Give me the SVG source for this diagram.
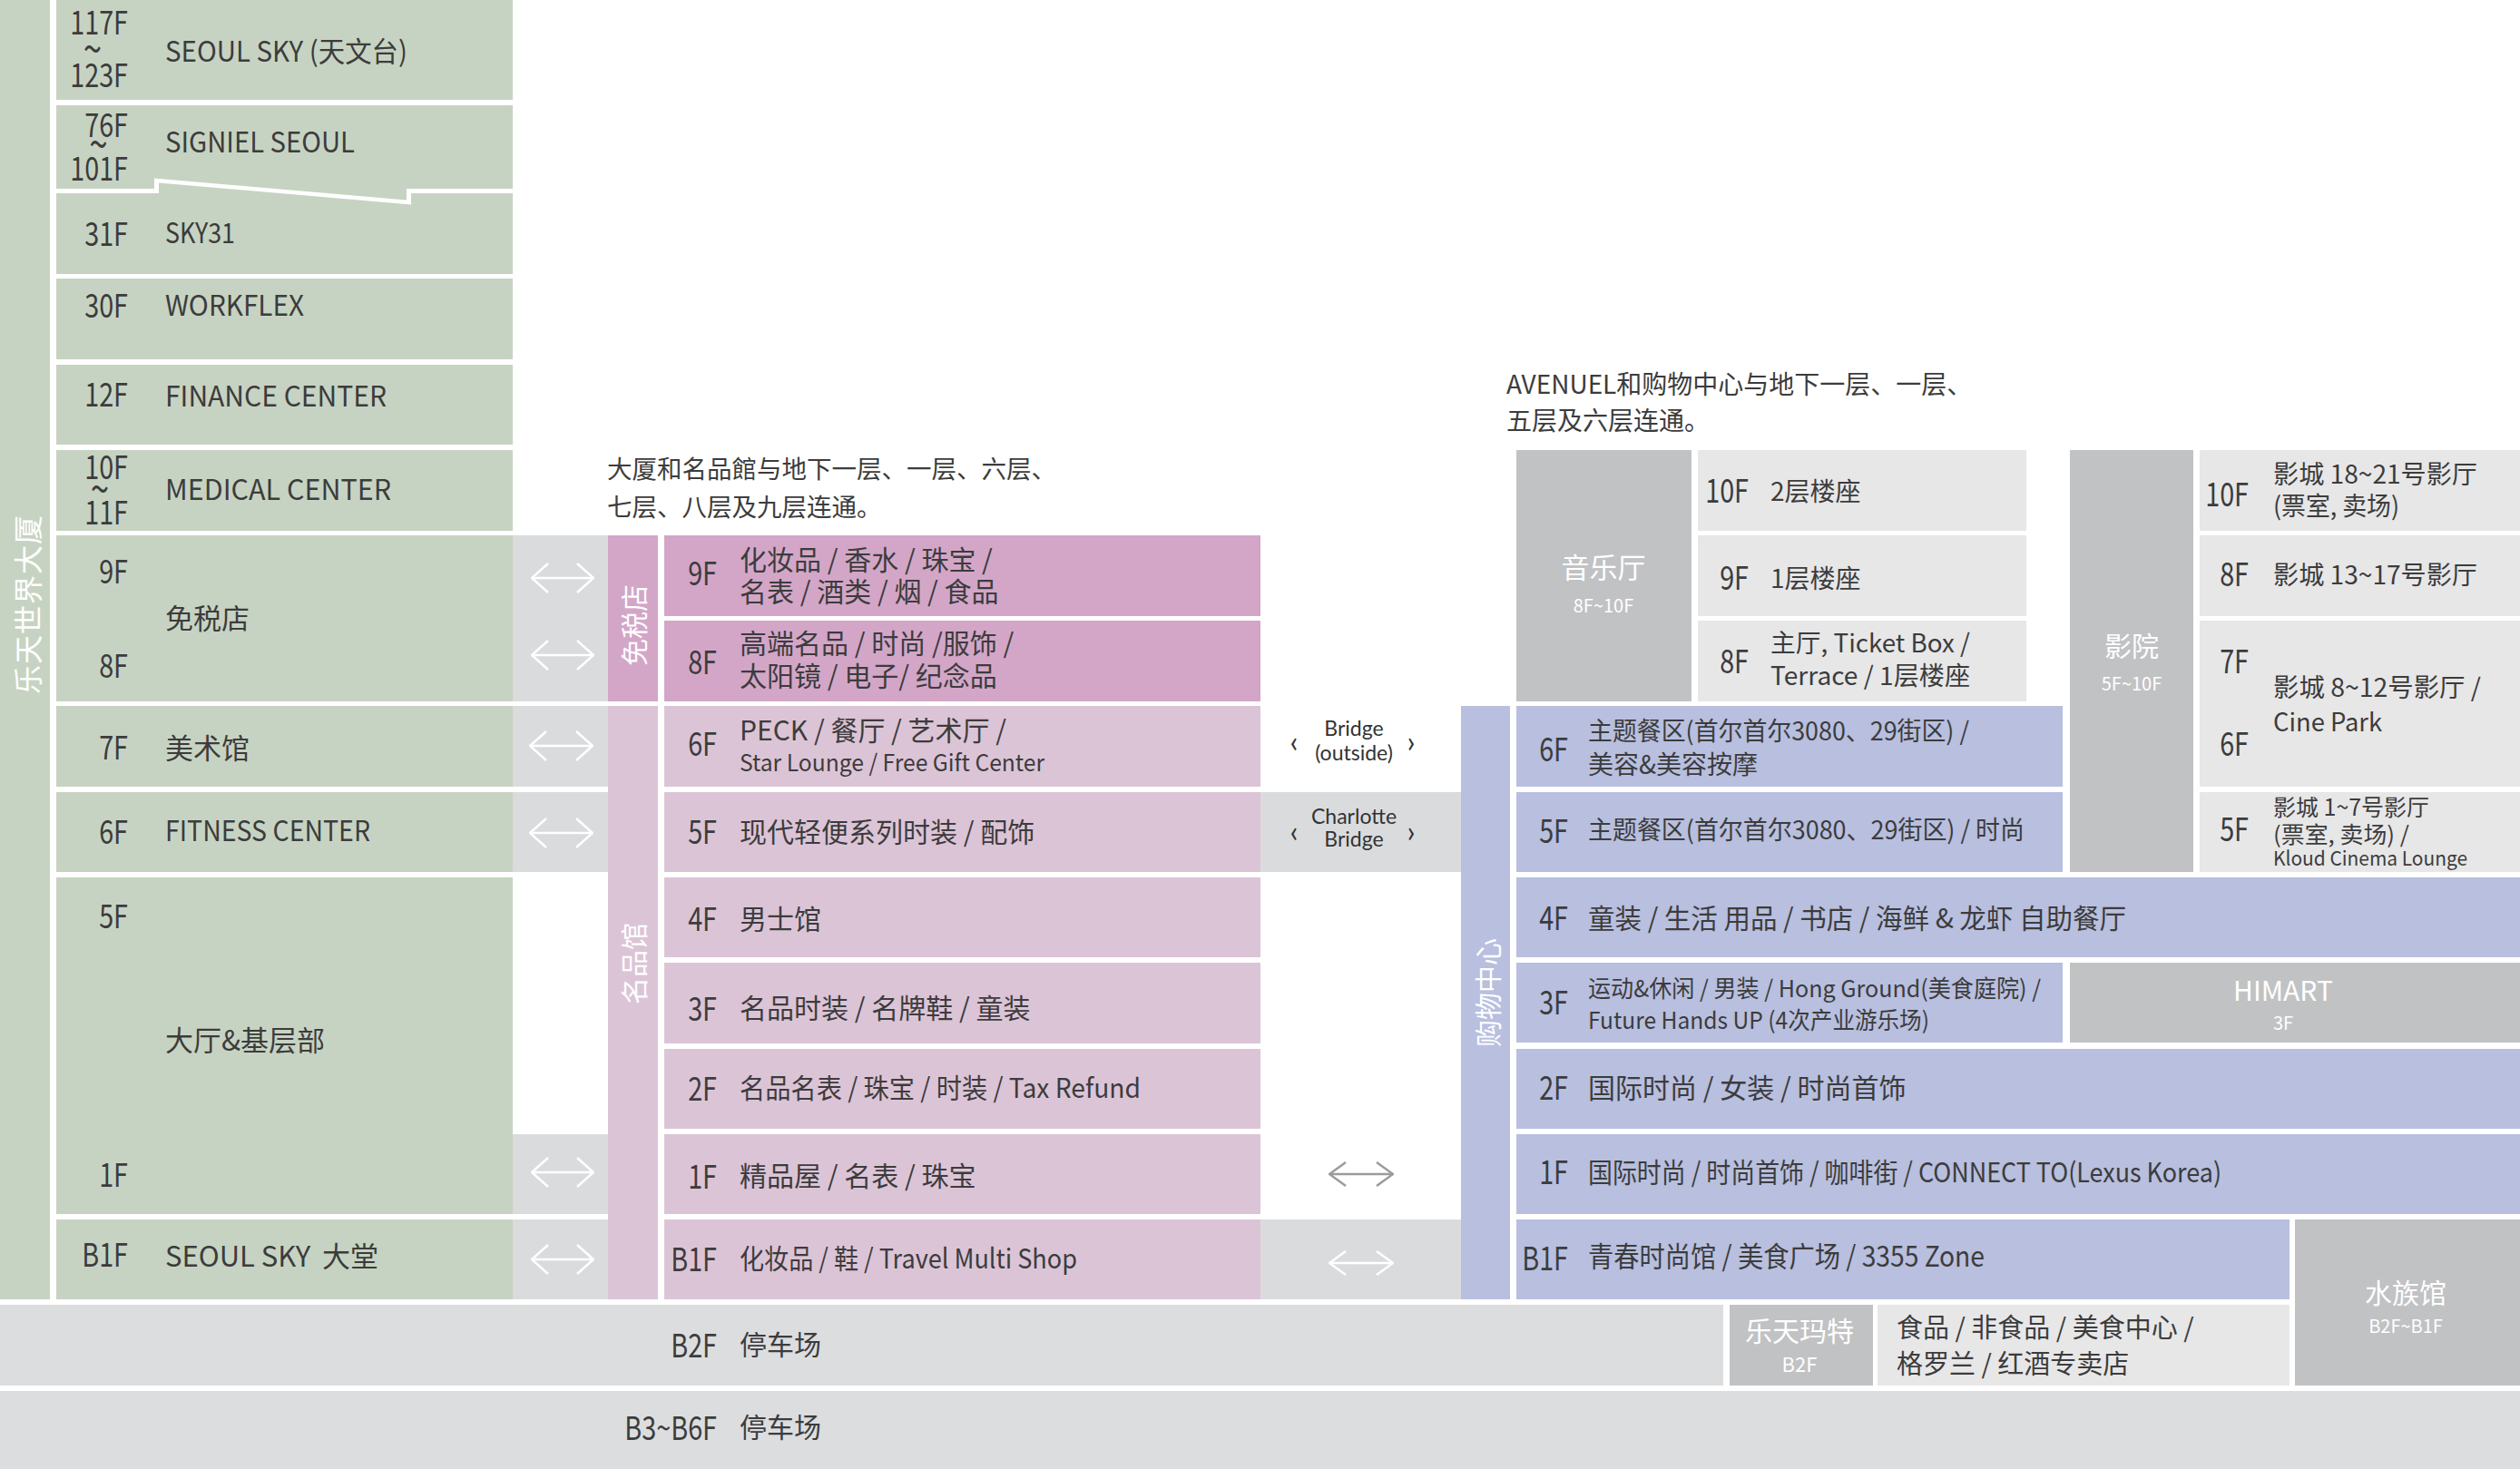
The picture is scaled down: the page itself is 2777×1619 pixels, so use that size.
<svg xmlns="http://www.w3.org/2000/svg" width="2777" height="1619" viewBox="0 0 2777 1619">
<defs>
<style>
.g{fill:#c7d3c2}.gs{fill:#dadbdd}.pd{fill:#d3a6c8}.pl{fill:#dcc4d7}.pu{fill:#b8bfdf}.mg{fill:#c1c2c4}.lg{fill:#e7e7e8}.bg{fill:#dcdddf}
text{font-family:"Noto Sans CJK SC","Noto Sans",sans-serif;fill:#3c3c3c}
.t{font-size:31px}.t30{font-size:30px}.t28{font-size:28px}.t26{font-size:26px}.t25{font-size:25px}.t22{font-size:22px}
.fl{font-size:36px;text-anchor:end}
.tld{font-size:46px}
.w{fill:#fff;text-anchor:middle}
.v{fill:#fff;text-anchor:middle;dominant-baseline:central;font-size:30px}
.br{font-family:Lato,"Liberation Sans",sans-serif;font-size:23px;fill:#333;text-anchor:middle}
.ch{font-family:Lato,"Liberation Sans",sans-serif;font-size:32px;fill:#333;text-anchor:middle}
.aw{stroke:#fff;stroke-width:2.5;fill:none}
.ag{stroke:#9b9b9b;stroke-width:2.5;fill:none}
</style>
<marker id="hw" viewBox="0 0 20 34" refX="19" refY="17" markerWidth="20" markerHeight="34" markerUnits="userSpaceOnUse" orient="auto-start-reverse"><path d="M1,1 L19,17 L1,33" fill="none" stroke="#fff" stroke-width="2.5"/></marker>
<marker id="hw2" viewBox="0 0 20 28" refX="19" refY="14" markerWidth="20" markerHeight="28" markerUnits="userSpaceOnUse" orient="auto-start-reverse"><path d="M1,1 L19,14 L1,27" fill="none" stroke="#fff" stroke-width="2.5"/></marker>
<marker id="hg" viewBox="0 0 20 28" refX="19" refY="14" markerWidth="20" markerHeight="28" markerUnits="userSpaceOnUse" orient="auto-start-reverse"><path d="M1,1 L19,14 L1,27" fill="none" stroke="#9b9b9b" stroke-width="2.5"/></marker>
</defs>
<rect width="2777" height="1619" fill="#fff"/>

<!-- Lotte World Tower -->
<g id="tower-bar"><rect class="g" x="0" y="0" width="55" height="1432"/><text class="v" letter-spacing="1" transform="translate(29 666) rotate(-90)" style="font-size:32px">乐天世界大厦</text></g>

<g id="f117"><rect class="g" x="62" y="0" width="503" height="110"/>
<text class="fl" transform="translate(141 0) scale(.8 1)"><tspan x="0" y="38">117F</tspan><tspan class="tld" x="-36" y="71">~</tspan><tspan x="0" y="96">123F</tspan></text>
<text class="t" x="182" y="68" textLength="267" lengthAdjust="spacingAndGlyphs">SEOUL SKY (天文台)</text></g>

<g id="f76"><polygon class="g" points="62,116 565,116 565,208 448,208 448,220.5 170,196.5 170,208 62,208"/>
<text class="fl" transform="translate(141 0) scale(.8 1)"><tspan x="0" y="151">76F</tspan><tspan class="tld" x="-28" y="176">~</tspan><tspan x="0" y="199">101F</tspan></text>
<text class="t" x="182" y="168" textLength="209" lengthAdjust="spacingAndGlyphs">SIGNIEL SEOUL</text></g>

<g id="f31"><polygon class="g" points="62,213 175,213 175,201.5 453,225.5 453,213 565,213 565,302 62,302"/>
<text class="fl" transform="translate(141 271) scale(.8 1)">31F</text>
<text class="t" x="182" y="268" textLength="77" lengthAdjust="spacingAndGlyphs">SKY31</text></g>

<g id="f30"><rect class="g" x="62" y="307" width="503" height="89"/>
<text class="fl" transform="translate(141 350) scale(.8 1)">30F</text>
<text class="t" x="182" y="348" textLength="153" lengthAdjust="spacingAndGlyphs">WORKFLEX</text></g>

<g id="f12"><rect class="g" x="62" y="402" width="503" height="88"/>
<text class="fl" transform="translate(141 448) scale(.8 1)">12F</text>
<text class="t" x="182" y="448" textLength="244" lengthAdjust="spacingAndGlyphs">FINANCE CENTER</text></g>

<g id="f10"><rect class="g" x="62" y="496" width="503" height="89"/>
<text class="fl" transform="translate(141 0) scale(.8 1)"><tspan x="0" y="528">10F</tspan><tspan class="tld" x="-26" y="556">~</tspan><tspan x="0" y="578">11F</tspan></text>
<text class="t" x="182" y="551" textLength="249" lengthAdjust="spacingAndGlyphs">MEDICAL CENTER</text></g>

<g id="f9-8"><rect class="g" x="62" y="590" width="503" height="183"/><rect class="gs" x="565" y="590" width="105" height="183"/>
<text class="fl" transform="translate(141 643) scale(.8 1)">9F</text><text class="fl" transform="translate(141 747) scale(.8 1)">8F</text>
<text class="t" x="182" y="693">免税店</text></g>

<g id="f7"><rect class="g" x="62" y="778" width="503" height="89"/><rect class="gs" x="565" y="778" width="105" height="89"/>
<text class="fl" transform="translate(141 837) scale(.8 1)">7F</text><text class="t" x="182" y="836">美术馆</text></g>

<g id="f6"><rect class="g" x="62" y="873" width="503" height="88"/><rect class="gs" x="565" y="873" width="105" height="88"/>
<text class="fl" transform="translate(141 930) scale(.8 1)">6F</text><text class="t" x="182" y="927" textLength="226" lengthAdjust="spacingAndGlyphs">FITNESS CENTER</text></g>

<g id="f5-1"><rect class="g" x="62" y="967" width="503" height="371"/><rect class="gs" x="565" y="1250" width="105" height="88"/>
<text class="fl" transform="translate(141 1023) scale(.8 1)">5F</text><text class="fl" transform="translate(141 1308) scale(.8 1)">1F</text>
<text class="t" x="182" y="1158">大厅&amp;基层部</text></g>

<g id="fb1"><rect class="g" x="62" y="1344" width="503" height="88"/><rect class="gs" x="565" y="1344" width="105" height="88"/>
<text class="fl" transform="translate(141 1396) scale(.8 1)">B1F</text><text class="t" x="182" y="1396">SEOUL SKY<tspan x="355">大堂</tspan></text></g>

<!-- Avenuel -->
<g id="caption-left"><text x="669" style="font-size:27.5px"><tspan x="669" y="527">大厦和名品館与地下一层、一层、六层、</tspan><tspan x="669" y="569">七层、八层及九层连通。</tspan></text></g>

<g id="dutyfree-col"><rect class="pd" x="670" y="590" width="55" height="183"/><text class="v" transform="translate(697 689) rotate(-90)">免税店</text></g>
<g id="avenuel-col"><rect class="pl" x="670" y="778" width="55" height="654"/><text class="v" transform="translate(697 1062) rotate(-90)">名品馆</text></g>

<g id="a9"><rect class="pd" x="732" y="590" width="657" height="89"/><text class="fl" transform="translate(790 645) scale(.8 1)">9F</text>
<text class="t30"><tspan x="815" y="628">化妆品 / 香水 / 珠宝 /</tspan><tspan x="815" y="663">名表 / 酒类 / 烟 / 食品</tspan></text></g>
<g id="a8"><rect class="pd" x="732" y="684" width="657" height="89"/><text class="fl" transform="translate(790 743) scale(.8 1)">8F</text>
<text class="t30"><tspan x="815" y="720">高端名品 / 时尚 /服饰 /</tspan><tspan x="815" y="756">太阳镜 / 电子/ 纪念品</tspan></text></g>
<g id="a6"><rect class="pl" x="732" y="778" width="657" height="89"/><text class="fl" transform="translate(790 833) scale(.8 1)">6F</text>
<text class="t30"><tspan x="815" y="816">PECK / 餐厅 / 艺术厅 /</tspan><tspan x="815" y="850" class="t26" textLength="336" lengthAdjust="spacingAndGlyphs">Star Lounge / Free Gift Center</tspan></text></g>
<g id="a5"><rect class="pl" x="732" y="873" width="657" height="88"/><text class="fl" transform="translate(790 930) scale(.8 1)">5F</text>
<text class="t30" x="815" y="928">现代轻便系列时装 / 配饰</text></g>
<g id="a4"><rect class="pl" x="732" y="967" width="657" height="88"/><text class="fl" transform="translate(790 1026) scale(.8 1)">4F</text>
<text class="t30" x="815" y="1024">男士馆</text></g>
<g id="a3"><rect class="pl" x="732" y="1061" width="657" height="89"/><text class="fl" transform="translate(790 1125) scale(.8 1)">3F</text>
<text class="t30" x="815" y="1122">名品时装 / 名牌鞋 / 童装</text></g>
<g id="a2"><rect class="pl" x="732" y="1156" width="657" height="88"/><text class="fl" transform="translate(790 1213) scale(.8 1)">2F</text>
<text class="t30" x="815" y="1210" textLength="442" lengthAdjust="spacingAndGlyphs">名品名表 / 珠宝 / 时装 / Tax Refund</text></g>
<g id="a1"><rect class="pl" x="732" y="1250" width="657" height="88"/><text class="fl" transform="translate(790 1310) scale(.8 1)">1F</text>
<text class="t30" x="815" y="1307">精品屋 / 名表 / 珠宝</text></g>
<g id="ab1"><rect class="pl" x="732" y="1344" width="657" height="88"/><text class="fl" transform="translate(790 1401) scale(.8 1)">B1F</text>
<text class="t30" x="815" y="1398" textLength="372" lengthAdjust="spacingAndGlyphs">化妆品 / 鞋 / Travel Multi Shop</text></g>

<!-- bridges -->
<g id="bridge-outside"><text class="br"><tspan x="1492" y="811">Bridge</tspan><tspan x="1492" y="838">(outside)</tspan></text><text class="ch" x="1426" y="829">‹</text><text class="ch" x="1555" y="829">›</text></g>
<g id="charlotte-bridge"><rect class="gs" x="1389" y="873" width="221" height="88"/><text class="br"><tspan x="1492" y="908">Charlotte</tspan><tspan x="1492" y="933">Bridge</tspan></text><text class="ch" x="1426" y="928">‹</text><text class="ch" x="1555" y="928">›</text></g>
<g id="bridge-b1"><rect class="gs" x="1389" y="1344" width="221" height="88"/></g>

<!-- Lotte World Mall -->
<g id="caption-right"><text class="t28"><tspan x="1660" y="434">AVENUEL和购物中心与地下一层、一层、</tspan><tspan x="1660" y="474">五层及六层连通。</tspan></text></g>
<g id="mall-col"><rect class="pu" x="1610" y="778" width="54" height="654"/><text class="v" transform="translate(1638 1094) rotate(-90)">购物中心</text></g>

<g id="concert"><rect class="mg" x="1671" y="496" width="193" height="277"/><text class="w"><tspan x="1767" y="637" style="font-size:31px">音乐厅</tspan><tspan x="1767" y="675" style="font-size:20px">8F~10F</tspan></text></g>
<g id="c10"><rect class="lg" x="1871" y="496" width="362" height="89"/><text class="fl" transform="translate(1927 554) scale(.8 1)">10F</text><text class="t28" x="1951" y="552">2层楼座</text></g>
<g id="c9"><rect class="lg" x="1871" y="590" width="362" height="89"/><text class="fl" transform="translate(1927 650) scale(.8 1)">9F</text><text class="t28" x="1951" y="648">1层楼座</text></g>
<g id="c8"><rect class="lg" x="1871" y="684" width="362" height="89"/><text class="fl" transform="translate(1927 742) scale(.8 1)">8F</text><text class="t28"><tspan x="1951" y="719" textLength="220" lengthAdjust="spacingAndGlyphs">主厅, Ticket Box /</tspan><tspan x="1951" y="755" textLength="220" lengthAdjust="spacingAndGlyphs">Terrace / 1层楼座</tspan></text></g>

<g id="cinema"><rect class="mg" x="2281" y="496" width="136" height="465"/><text class="w"><tspan x="2349" y="723" style="font-size:30px">影院</tspan><tspan x="2349" y="761" style="font-size:20px">5F~10F</tspan></text></g>
<g id="m10"><rect class="lg" x="2424" y="496" width="353" height="89"/><text class="fl" transform="translate(2478 558) scale(.8 1)">10F</text><text class="t28"><tspan x="2505" y="533" textLength="225" lengthAdjust="spacingAndGlyphs">影城 18~21号影厅</tspan><tspan x="2505" y="568" textLength="139" lengthAdjust="spacingAndGlyphs">(票室, 卖场)</tspan></text></g>
<g id="m8"><rect class="lg" x="2424" y="590" width="353" height="89"/><text class="fl" transform="translate(2478 646) scale(.8 1)">8F</text><text class="t28" x="2505" y="644" textLength="225" lengthAdjust="spacingAndGlyphs">影城 13~17号影厅</text></g>
<g id="m7-6"><rect class="lg" x="2424" y="684" width="353" height="183"/><text class="fl" transform="translate(2478 742) scale(.8 1)">7F</text><text class="fl" transform="translate(2478 833) scale(.8 1)">6F</text><text class="t28"><tspan x="2505" y="768" textLength="229" lengthAdjust="spacingAndGlyphs">影城 8~12号影厅 /</tspan><tspan x="2505" y="806" textLength="120" lengthAdjust="spacingAndGlyphs">Cine Park</tspan></text></g>
<g id="m5"><rect class="lg" x="2424" y="873" width="353" height="88"/><text class="fl" transform="translate(2478 927) scale(.8 1)">5F</text><text class="t25"><tspan x="2505" y="899" textLength="172" lengthAdjust="spacingAndGlyphs">影城 1~7号影厅</tspan><tspan x="2505" y="929" textLength="150" lengthAdjust="spacingAndGlyphs">(票室, 卖场) /</tspan><tspan x="2505" y="954" class="t22" textLength="214" lengthAdjust="spacingAndGlyphs">Kloud Cinema Lounge</tspan></text></g>

<g id="s6"><rect class="pu" x="1671" y="778" width="602" height="89"/><text class="fl" transform="translate(1728 839) scale(.8 1)">6F</text><text class="t28"><tspan x="1750" y="816" textLength="420" lengthAdjust="spacingAndGlyphs">主题餐区(首尔首尔3080、29街区) /</tspan><tspan x="1750" y="853">美容&amp;美容按摩</tspan></text></g>
<g id="s5"><rect class="pu" x="1671" y="873" width="602" height="88"/><text class="fl" transform="translate(1728 929) scale(.8 1)">5F</text><text class="t28" x="1750" y="925" textLength="481" lengthAdjust="spacingAndGlyphs">主题餐区(首尔首尔3080、29街区) / 时尚</text></g>
<g id="s4"><rect class="pu" x="1671" y="967" width="1106" height="88"/><text class="fl" transform="translate(1728 1025) scale(.8 1)">4F</text><text class="t30" x="1750" y="1023" textLength="593" lengthAdjust="spacingAndGlyphs">童装 / 生活 用品 / 书店 / 海鲜 &amp; 龙虾 自助餐厅</text></g>
<g id="s3"><rect class="pu" x="1671" y="1061" width="602" height="88"/><text class="fl" transform="translate(1728 1118) scale(.8 1)">3F</text><text class="t26"><tspan x="1750" y="1099" textLength="499" lengthAdjust="spacingAndGlyphs">运动&amp;休闲 / 男装 / Hong Ground(美食庭院) /</tspan><tspan x="1750" y="1134" textLength="376" lengthAdjust="spacingAndGlyphs">Future Hands UP (4次产业游乐场)</tspan></text></g>
<g id="himart"><rect class="mg" x="2281" y="1061" width="496" height="88"/><text class="w"><tspan x="2516" y="1103" style="font-size:30px">HIMART</tspan><tspan x="2516" y="1135" style="font-size:20px">3F</tspan></text></g>
<g id="s2"><rect class="pu" x="1671" y="1156" width="1106" height="88"/><text class="fl" transform="translate(1728 1212) scale(.8 1)">2F</text><text class="t30" x="1750" y="1210">国际时尚 / 女装 / 时尚首饰</text></g>
<g id="s1"><rect class="pu" x="1671" y="1250" width="1106" height="88"/><text class="fl" transform="translate(1728 1305) scale(.8 1)">1F</text><text class="t30" x="1750" y="1303" textLength="698" lengthAdjust="spacingAndGlyphs">国际时尚 / 时尚首饰 / 咖啡街 / CONNECT TO(Lexus Korea)</text></g>
<g id="sb1"><rect class="pu" x="1671" y="1344" width="852" height="88"/><text class="fl" transform="translate(1728 1400) scale(.8 1)">B1F</text><text class="t" x="1750" y="1396" textLength="437" lengthAdjust="spacingAndGlyphs">青春时尚馆 / 美食广场 / 3355 Zone</text></g>
<g id="aquarium"><rect class="mg" x="2529" y="1344" width="248" height="183"/><text class="w"><tspan x="2651" y="1436" style="font-size:30px">水族馆</tspan><tspan x="2651" y="1469" style="font-size:20px">B2F~B1F</tspan></text></g>

<!-- basement -->
<g id="b2"><rect class="bg" x="0" y="1438" width="1899" height="89"/><text class="fl" transform="translate(790 1496) scale(.8 1)">B2F</text><text class="t30" x="815" y="1493">停车场</text></g>
<g id="lottemart"><rect class="mg" x="1906" y="1438" width="158" height="89"/><text class="w"><tspan x="1983" y="1478" style="font-size:30px">乐天玛特</tspan><tspan x="1983" y="1512" style="font-size:22px">B2F</tspan></text></g>
<g id="grocery"><rect class="lg" x="2069" y="1438" width="454" height="89"/><text style="font-size:29px"><tspan x="2090" y="1474">食品 / 非食品 / 美食中心 /</tspan><tspan x="2090" y="1514">格罗兰 / 红酒专卖店</tspan></text></g>
<g id="b3"><rect class="bg" x="0" y="1533" width="2777" height="86"/><text class="fl" transform="translate(790 1587) scale(.8 1)">B3~B6F</text><text class="t30" x="815" y="1584">停车场</text></g>

<!-- connectors -->
<g id="connectors">
<line class="aw" x1="586" y1="637" x2="654" y2="637" marker-start="url(#hw)" marker-end="url(#hw)"/>
<line class="aw" x1="586" y1="722" x2="654" y2="722" marker-start="url(#hw)" marker-end="url(#hw)"/>
<line class="aw" x1="584" y1="822" x2="653" y2="822" marker-start="url(#hw)" marker-end="url(#hw)"/>
<line class="aw" x1="584" y1="918" x2="653" y2="918" marker-start="url(#hw)" marker-end="url(#hw)"/>
<line class="aw" x1="586" y1="1292" x2="654" y2="1292" marker-start="url(#hw)" marker-end="url(#hw)"/>
<line class="aw" x1="586" y1="1388" x2="654" y2="1388" marker-start="url(#hw)" marker-end="url(#hw)"/>
<line class="ag" x1="1465" y1="1294" x2="1535" y2="1294" marker-start="url(#hg)" marker-end="url(#hg)"/>
<line class="aw" x1="1465" y1="1392" x2="1535" y2="1392" marker-start="url(#hw2)" marker-end="url(#hw2)"/>
</g>
</svg>
